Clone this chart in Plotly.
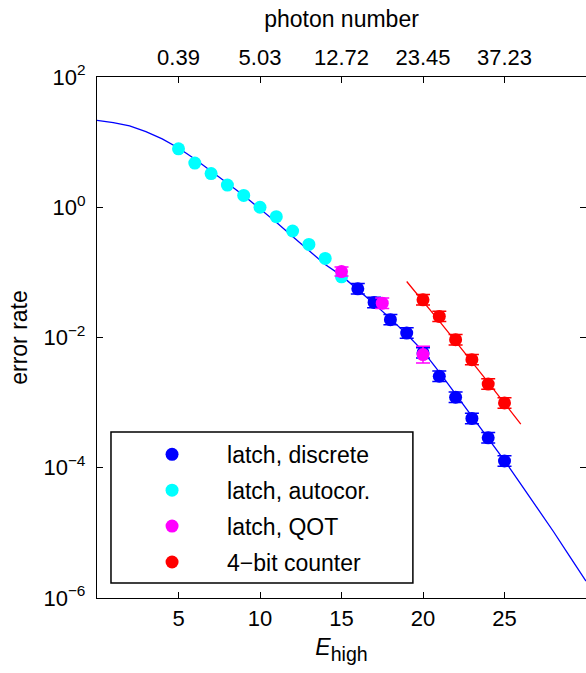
import plotly.graph_objects as go

# ---- data ----
# latch, discrete
disc_x = [16, 17, 18, 19, 20, 21, 22, 23, 24, 25]
disc_y = [0.0559, 0.0345, 0.0188, 0.0117, 0.0058, 0.00254, 0.00121, 0.000571, 0.000288, 0.000127]
disc_err_dec = 0.08          # half-width of error bar, decades
# latch, autocor.
auto_x = [5, 6, 7, 8, 9, 10, 11, 12, 13, 14, 15]
auto_y = [7.9, 4.76, 3.29, 2.19, 1.52, 1.0, 0.716, 0.432, 0.269, 0.164, 0.0853]
# latch, QOT
qot_x = [15, 17.5, 20]
qot_y = [0.103, 0.0336, 0.00546]
qot_err_dec = [0.07, 0.08, 0.13]
# 4-bit counter
cnt_x = [20, 21, 22, 23, 24, 25]
cnt_y = [0.0379, 0.0211, 0.00925, 0.00457, 0.00193, 0.000989]
cnt_err_dec = 0.08

# model curve (blue)
fit_x = list(range(0, 31))
fit_y = [21.6, 19.95, 17.8, 14.5, 11.2, 8.13, 5.50, 3.63, 2.34, 1.51, 0.955,
         0.589, 0.355, 0.214, 0.132, 0.0891, 0.0550, 0.0331, 0.0195, 0.0112, 0.00617,
         0.00295, 0.00135, 0.000617, 0.000282, 0.000129, 5.62e-5, 2.45e-5, 1.05e-5, 4.37e-6, 1.82e-6]
# counter fit line (red)
cfit_x = [19, 20, 21, 22, 23, 24, 25, 26]
cfit_y = [0.0724, 0.0363, 0.0178, 0.00871, 0.00427, 0.00204, 0.000977, 0.000468]

# axes
x_ticks = [5, 10, 15, 20, 25]
photon_labels = ["0.39", "5.03", "12.72", "23.45", "37.23"]
y_ticks = [1e-6, 1e-4, 1e-2, 1, 1e2]
y_labels = ["10<sup>−6</sup>", "10<sup>−4</sup>", "10<sup>−2</sup>", "10<sup>0</sup>", "10<sup>2</sup>"]

FONT = "Liberation Sans, Arial, Helvetica, sans-serif"


def log_err(ys, dec):
    if not isinstance(dec, list):
        dec = [dec] * len(ys)
    plus = [y * (10 ** d - 1) for y, d in zip(ys, dec)]
    minus = [y * (1 - 10 ** (-d)) for y, d in zip(ys, dec)]
    return plus, minus


fig = go.Figure()

fig.add_trace(go.Scatter(x=fit_x, y=fit_y, mode="lines", line=dict(color="#0000ff", width=1.3),
                         showlegend=False, hoverinfo="skip"))
fig.add_trace(go.Scatter(x=cfit_x, y=cfit_y, mode="lines", line=dict(color="#ff0000", width=1.3),
                         showlegend=False, hoverinfo="skip"))

series = [
    ("latch, discrete", disc_x, disc_y, disc_err_dec, "#0000ff"),
    ("latch, autocor.", auto_x, auto_y, None, "#00ffff"),
    ("latch, QOT", qot_x, qot_y, qot_err_dec, "#ff00ff"),
    ("4\u2212bit counter", cnt_x, cnt_y, cnt_err_dec, "#ff0000"),
]
for i, (name, xs, ys, err, col) in enumerate(series):
    ey = None
    if err is not None:
        p, m = log_err(ys, err)
        ey = dict(type="data", symmetric=False, array=p, arrayminus=m,
                  color=col, thickness=1.5, width=7)
    fig.add_trace(go.Scatter(x=xs, y=ys, mode="markers", name=name,
                             marker=dict(color=col, size=13, line=dict(width=0)),
                             error_y=ey, legendgroup=f"g{i}"))

# top axis anchor trace (no visible marks)
fig.add_trace(go.Scatter(x=x_ticks, y=[None] * len(x_ticks), xaxis="x2", showlegend=False, hoverinfo="skip"))

axis_common = dict(showline=True, linecolor="black", linewidth=1.3, ticks="inside",
                   tickcolor="black", ticklen=6, tickwidth=1.2, showgrid=False, zeroline=False,
                   automargin=False,
                   tickfont=dict(family=FONT, size=22, color="black"))

fig.update_layout(
    width=586, height=673,
    margin=dict(l=97, r=0, t=77, b=75),
    paper_bgcolor="white", plot_bgcolor="white",
    font=dict(family=FONT, size=22, color="black"),
    xaxis=dict(range=[0, 30], tickvals=x_ticks, ticktext=[str(v) for v in x_ticks],
               ticklabelstandoff=0,
               title=dict(text="<span style='font-size:23px'><i>E</i></span><sub>high</sub>",
                          font=dict(family=FONT, size=28), standoff=5),
               **axis_common),
    xaxis2=dict(range=[0, 30], overlaying="x", side="top", anchor="y",
                tickvals=x_ticks, ticktext=photon_labels, ticklabelstandoff=2,
                title=dict(text="photon number", font=dict(family=FONT, size=23), standoff=10),
                **axis_common),
    yaxis=dict(type="log", range=[-6, 2], tickvals=y_ticks, ticktext=y_labels, mirror="ticks",
               ticklabelstandoff=6,
               title=dict(text="error rate", font=dict(family=FONT, size=23), standoff=9),
               **axis_common),
    showlegend=True,
    legend=dict(x=0.041, y=0.317, xanchor="left", yanchor="top", bgcolor="rgba(0,0,0,0)",
                borderwidth=0, font=dict(family=FONT, size=23), itemwidth=100,
                traceorder="grouped", tracegroupgap=3),
    shapes=[dict(type="rect", xref="paper", yref="paper", x0=0.0286, x1=0.646, y0=0.029, y1=0.3186,
                 line=dict(color="black", width=1.5), fillcolor="rgba(0,0,0,0)", layer="above")],
)

fig.write_html("out.html", config={"displayModeBar": False},
               post_script="document.body.style.margin='0';")
